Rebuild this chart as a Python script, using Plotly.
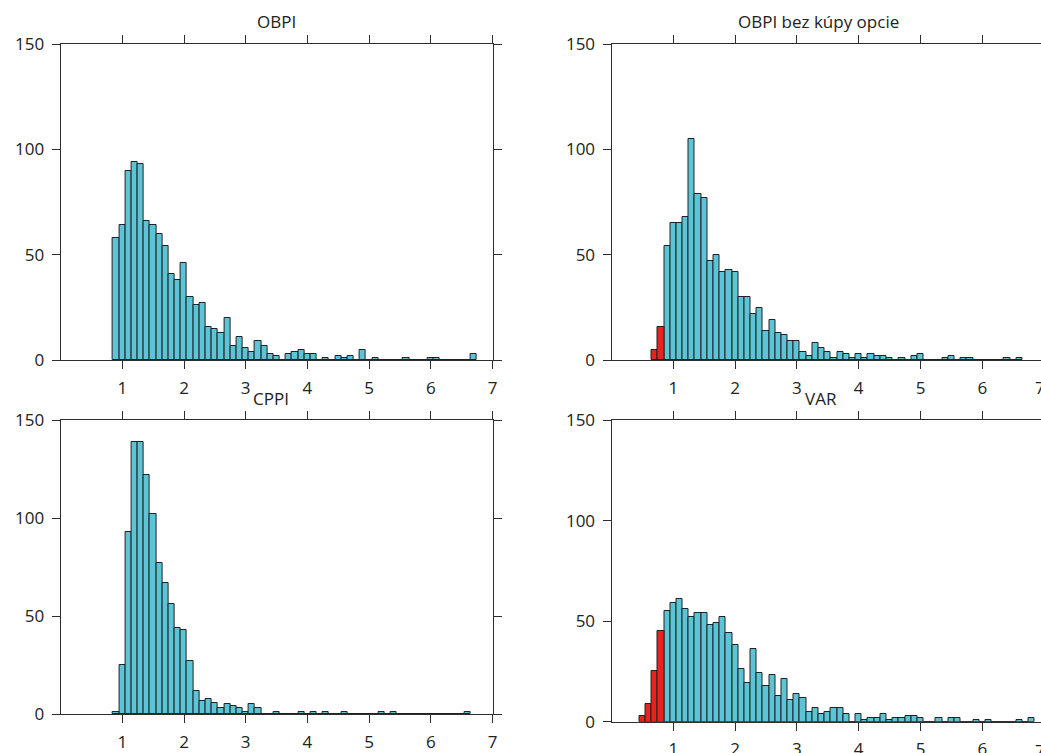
import plotly.graph_objects as go

# ---------------- data (histogram counts, bin width 0.1) ----------------
BIN = 0.1
TITLES = ["OBPI", "OBPI bez kúpy opcie", "CPPI", "VAR"]
X_TICKS = [1, 2, 3, 4, 5, 6, 7]
Y_TICKS = [0, 50, 100, 150]

# OBPI: bins start at 0.9
obpi_start = 0.9
obpi_counts = [58, 64, 90, 94, 93, 66, 64, 60, 54, 41, 38, 46, 30, 26, 27, 16, 15, 13, 20, 7,
               11, 6, 4, 9, 7, 3, 2, 0, 3, 4, 5, 3, 3, 0, 1, 0, 2, 1, 2, 0,
               5, 0, 1, 0, 0, 0, 0, 1, 0, 0, 0, 1, 1, 0, 0, 0, 0, 0, 3]

# OBPI bez kúpy opcie: red (loss) bins start at 0.7, blue bins start at 0.9
obpib_red_start = 0.7
obpib_red_counts = [5, 16]
obpib_start = 0.9
obpib_counts = [54, 65, 65, 68, 105, 79, 77, 47, 50, 42, 43, 42, 30, 30, 22, 25, 14, 19, 13, 12,
                9, 9, 4, 2, 8, 6, 4, 1, 4, 3, 1, 3, 1, 3, 2, 2, 1, 0, 1, 0,
                2, 3, 0, 0, 0, 1, 2, 0, 1, 1, 0, 0, 0, 0, 0, 1, 0, 1]

# CPPI: bins start at 0.9
cppi_start = 0.9
cppi_counts = [1, 25, 93, 139, 139, 122, 102, 77, 67, 56, 44, 43, 27, 12, 7, 8, 6, 3, 5, 4,
               3, 1, 5, 3, 0, 0, 1, 0, 0, 0, 1, 0, 1, 0, 1, 0, 0, 1, 0, 0,
               0, 0, 0, 1, 0, 1, 0, 0, 0, 0, 0, 0, 0, 0, 0, 0, 0, 1]

# VAR: red bins start at 0.5, blue bins start at 0.9
var_red_start = 0.5
var_red_counts = [3, 9, 25, 45]
var_start = 0.9
var_counts = [55, 59, 61, 56, 52, 54, 54, 48, 49, 52, 44, 38, 26, 19, 36, 24, 18, 23, 13, 21,
              11, 14, 12, 5, 7, 4, 5, 7, 7, 4, 0, 4, 1, 2, 2, 4, 1, 2, 2, 3,
              3, 2, 0, 0, 2, 0, 2, 2, 0, 0, 1, 0, 1, 0, 0, 0, 0, 1, 0, 2]

BLUE = "#5cc4d7"
RED = "#e8231f"
EDGE = "#222222"
AXC = "#2e2e2e"
FONT = "Open Sans"


def centers(start, counts):
    return [round(start + BIN * i, 2) for i in range(len(counts))]


W, H = 1041, 753


def dx(l, r):
    return [l / W, min(r / W, 1.0)]


def dy(top, bottom):
    return [1 - bottom / H, 1 - top / H]


fig = go.Figure()

panels = [
    # (axis suffix, blue start, blue counts, red start, red counts)
    ("", obpi_start, obpi_counts, None, None),
    ("2", obpib_start, obpib_counts, obpib_red_start, obpib_red_counts),
    ("3", cppi_start, cppi_counts, None, None),
    ("4", var_start, var_counts, var_red_start, var_red_counts),
]

for suf, bs, bc, rs, rc in panels:
    xa, ya = "x" + suf, "y" + suf
    fig.add_trace(go.Bar(x=centers(bs, bc), y=bc, width=BIN, xaxis=xa, yaxis=ya,
                         marker=dict(color=BLUE, line=dict(color=EDGE, width=1)),
                         showlegend=False, hoverinfo="x+y"))
    if rc is not None:
        fig.add_trace(go.Bar(x=centers(rs, rc), y=rc, width=BIN, xaxis=xa, yaxis=ya,
                             marker=dict(color=RED, line=dict(color=EDGE, width=1)),
                             showlegend=False, hoverinfo="x+y"))

px_per_unit = 61.8
left_l, left_r = 60.6, 492.5
right_l = 611.5
right_max = (W - right_l) / px_per_unit

common = dict(showline=True, linecolor=AXC, linewidth=1, ticks="outside", ticklen=8,
              tickcolor=AXC, tickwidth=1, showgrid=False, zeroline=False, automargin=False,
              tickfont=dict(family=FONT, size=17, color="#222222"), ticklabelstandoff=4)

def xax(domain, rng, anchor):
    d = dict(common)
    d.update(domain=domain, range=rng, tickvals=X_TICKS, mirror="ticks", anchor=anchor)
    return d

def yax(domain, anchor, mirror):
    d = dict(common)
    d.update(domain=domain, range=[0, 150], tickvals=Y_TICKS, mirror=mirror, anchor=anchor)
    return d

fig.update_layout(
    width=W, height=H, margin=dict(l=0, r=0, t=0, b=0, autoexpand=False),
    paper_bgcolor="white", plot_bgcolor="white", bargap=0,
    font=dict(family=FONT, size=17, color="#222222"),
    xaxis=xax(dx(left_l, left_r), [0, 7], "y"),
    yaxis=yax(dy(44, 360.3), "x", "ticks"),
    xaxis2=xax(dx(right_l, W), [0, right_max], "y2"),
    yaxis2=yax(dy(44, 360.3), "x2", False),
    xaxis3=xax(dx(left_l, left_r), [0, 7], "y3"),
    yaxis3=yax(dy(420, 714.3), "x3", "ticks"),
    xaxis4=xax(dx(right_l, W), [0, right_max], "y4"),
    yaxis4=yax(dy(420, 721.7), "x4", False),
)

title_pos = [(276, 22), (818, 22), (271, 398), (821, 398)]
for t, (x, y) in zip(TITLES, title_pos):
    fig.add_annotation(text=t, x=x / W, y=1 - y / H, xref="paper", yref="paper",
                       showarrow=False, xanchor="center", yanchor="middle",
                       font=dict(family=FONT, size=17, color="#222222"))

# tick label "7" of the right panels, partly outside the page as in the original
for ypix in (387, 750):
    fig.add_annotation(text="7", x=1033 / W, xref="paper", y=1 - ypix / H, yref="paper",
                       showarrow=False, xanchor="left", yanchor="middle",
                       font=dict(family=FONT, size=17, color="#222222"))

fig.write_html("out.html")
